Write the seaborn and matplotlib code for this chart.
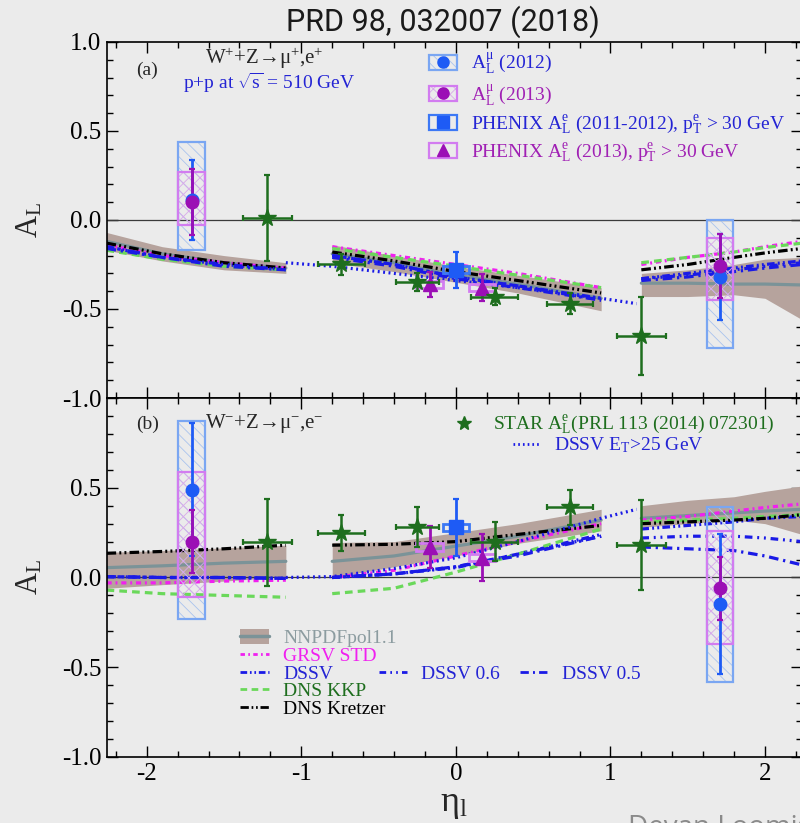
import matplotlib
matplotlib.use("Agg")
import matplotlib.pyplot as plt
from matplotlib.lines import Line2D
from matplotlib.patches import Rectangle
from matplotlib.ticker import MultipleLocator
import pandas as pd
import seaborn as sns

# ---------------- data ----------------
# theory calculations exist in three eta ranges
ETA_SEG = [[-2.26, -1.9, -1.5, -1.1],
           [-0.8, -0.4, 0.0, 0.4, 0.94],
           [1.2, 1.5, 1.8, 2.0, 2.24]]

# panel (a): W+ -> mu+, e+
NNPDF_P = [-0.12, -0.19, -0.24, -0.27, -0.19, -0.24, -0.31, -0.36, -0.44, -0.355, -0.355, -0.36, -0.36, -0.365]
NNPDF_P_LO = [-0.17, -0.23, -0.28, -0.30, -0.24, -0.29, -0.35, -0.41, -0.51, -0.43, -0.43, -0.42, -0.44, -0.56]
NNPDF_P_HI = [-0.07, -0.15, -0.20, -0.24, -0.14, -0.20, -0.26, -0.31, -0.38, -0.30, -0.28, -0.25, -0.22, -0.21]
GRSV_P = [-0.14, -0.20, -0.24, -0.27, -0.15, -0.20, -0.25, -0.30, -0.38, -0.25, -0.21, -0.18, -0.15, -0.12]
DSSV_P = [-0.15, -0.21, -0.25, -0.28, -0.20, -0.25, -0.32, -0.37, -0.44, -0.33, -0.30, -0.27, -0.25, -0.23]
KKP_P = [-0.17, -0.22, -0.26, -0.28, -0.16, -0.21, -0.26, -0.31, -0.38, -0.24, -0.21, -0.18, -0.155, -0.13]
KRETZER_P = [-0.13, -0.19, -0.24, -0.27, -0.18, -0.23, -0.29, -0.34, -0.41, -0.28, -0.25, -0.21, -0.185, -0.16]
DSSV06_P = [-0.15, -0.21, -0.25, -0.28, -0.20, -0.25, -0.32, -0.37, -0.45, -0.33, -0.31, -0.28, -0.26, -0.24]
DSSV05_P = [-0.16, -0.21, -0.26, -0.28, -0.21, -0.26, -0.33, -0.38, -0.45, -0.34, -0.32, -0.29, -0.27, -0.25]

# panel (b): W- -> mu-, e-
NNPDF_M = [0.055, 0.065, 0.08, 0.09, 0.09, 0.12, 0.175, 0.23, 0.32, 0.33, 0.345, 0.36, 0.37, 0.38]
NNPDF_M_LO = [-0.06, -0.04, -0.02, 0.005, 0.0, 0.06, 0.12, 0.19, 0.26, 0.28, 0.30, 0.32, 0.30, 0.24]
NNPDF_M_HI = [0.14, 0.15, 0.165, 0.18, 0.195, 0.20, 0.25, 0.30, 0.38, 0.40, 0.43, 0.45, 0.48, 0.51]
GRSV_M = [-0.03, -0.03, -0.02, -0.015, 0.0, 0.04, 0.12, 0.20, 0.30, 0.32, 0.34, 0.37, 0.39, 0.41]
DSSV_M = [0.005, 0.0, 0.0, -0.005, 0.0, 0.02, 0.055, 0.13, 0.24, 0.27, 0.29, 0.31, 0.33, 0.34]
KKP_M = [-0.07, -0.09, -0.10, -0.11, -0.09, -0.06, 0.03, 0.13, 0.27, 0.31, 0.32, 0.33, 0.34, 0.35]
KRETZER_M = [0.135, 0.145, 0.16, 0.18, 0.18, 0.185, 0.20, 0.24, 0.29, 0.30, 0.31, 0.32, 0.33, 0.35]
DSSV06_M = [0.005, 0.0, 0.0, -0.005, 0.0, 0.02, 0.06, 0.13, 0.23, 0.22, 0.23, 0.23, 0.22, 0.20]
DSSV05_M = [0.005, 0.0, 0.0, -0.005, 0.0, 0.02, 0.06, 0.12, 0.23, 0.17, 0.16, 0.15, 0.12, 0.07]

# DSSV with E_T > 25 GeV (continuous)
ETA_DSSV_ET = [-1.1, -0.8, -0.4, 0.0, 0.4, 0.94, 1.17]
DSSV_ET_P = [-0.24, -0.26, -0.30, -0.34, -0.38, -0.44, -0.47]
DSSV_ET_M = [0.0, 0.005, 0.05, 0.11, 0.20, 0.33, 0.38]

# STAR A_L^e (PRL 113 (2014) 072301)
STAR_ETA = [-1.22, -0.74, -0.25, 0.25, 0.74, 1.2]
STAR_XERR = [0.16, 0.15, 0.14, 0.15, 0.15, 0.16]
STAR_A_P = [0.01, -0.25, -0.35, -0.43, -0.47, -0.65]
STAR_ERR_P = [0.24, 0.06, 0.05, 0.05, 0.06, 0.22]
STAR_A_M = [0.195, 0.25, 0.28, 0.20, 0.39, 0.18]
STAR_ERR_M = [0.245, 0.10, 0.11, 0.11, 0.10, 0.25]

# PHENIX muons
MU_ETA = [-1.71, 1.71]
MU12_A_P = [0.11, -0.32]
MU12_ERR_P = [0.225, 0.24]
MU12_BOX_P_LO = [-0.17, -0.72]
MU12_BOX_P_HI = [0.44, 0.0]
MU13_A_P = [0.10, -0.26]
MU13_ERR_P = [0.185, 0.18]
MU13_BOX_P_LO = [-0.03, -0.45]
MU13_BOX_P_HI = [0.27, -0.10]
MU12_A_M = [0.49, -0.15]
MU12_ERR_M = [0.37, 0.39]
MU12_BOX_M_LO = [-0.23, -0.58]
MU12_BOX_M_HI = [0.87, 0.39]
MU13_A_M = [0.20, -0.06]
MU13_ERR_M = [0.175, 0.175]
MU13_BOX_M_LO = [-0.11, -0.37]
MU13_BOX_M_HI = [0.59, 0.26]

# PHENIX electrons
PHX12_ETA = [0.0]
PHX12_A_P = [-0.28]
PHX12_ERR_P = [0.10]
PHX12_A_M = [0.28]
PHX12_ERR_M = [0.16]
PHX13_ETA = [-0.17, 0.17]
PHX13_A_P = [-0.36, -0.38]
PHX13_ERR_P = [0.07, 0.075]
PHX13_A_M = [0.17, 0.11]
PHX13_ERR_M = [0.115, 0.13]
PHX_SYS = 0.02

# ---------------- style ----------------
BG = "#ebebeb"
BAND = "#b6a39d"
NNPDF_LINE = "#7b9398"
MAGENTA = "#f020f0"
BLUE = "#1a1ae6"
GREEN_LINE = "#6ad85a"
GREEN = "#1e6e1e"
BLUE_TXT = "#2424d4"
PURPLE_TXT = "#a020b4"
MU12_COL = "#1e5bf5"
MU13_COL = "#9b0fb5"
MU12_EDGE = "#7aa6f2"
MU13_EDGE = "#d27cf0"
MU12_HATCH = "#a9c3ee"
MU13_HATCH = "#d9a8ea"
PHX12_EDGE = "#3c78f5"

COLORS = {"NNPDF": NNPDF_LINE, "GRSV": MAGENTA, "DSSV": BLUE, "KKP": GREEN_LINE,
          "Kretzer": "black", "DSSV06": BLUE, "DSSV05": BLUE, "DSSV_ET": BLUE}
DASHES = {"NNPDF": "", "GRSV": (1.6, 1.2, 0.6, 1.2), "DSSV": (2.4, 1.0, 0.6, 1.0, 0.6, 1.0),
          "KKP": (2.4, 1.6), "Kretzer": (3.0, 1.0, 0.6, 1.0, 0.6, 1.0),
          "DSSV06": (2.4, 1.5, 0.6, 1.5, 0.6, 1.5), "DSSV05": (3.0, 1.5, 0.7, 1.5),
          "DSSV_ET": (0.6, 1.1)}

sns.set_theme(style="ticks", rc={"axes.facecolor": BG, "figure.facecolor": BG})
plt.rcParams["font.family"] = ["Liberation Serif", "DejaVu Serif"]
plt.rcParams["mathtext.fontset"] = "custom"
plt.rcParams["mathtext.rm"] = "Liberation Serif"
plt.rcParams["mathtext.it"] = "Liberation Serif:italic"
plt.rcParams["mathtext.bf"] = "Liberation Serif:bold"
plt.rcParams["hatch.linewidth"] = 0.6


def theory_frame(curves, et_values):
    rows = []
    for model, values in curves.items():
        i = 0
        for s, etas in enumerate(ETA_SEG):
            for eta in etas:
                rows.append((model, s, eta, values[i]))
                i += 1
    for eta, v in zip(ETA_DSSV_ET, et_values):
        rows.append(("DSSV_ET", 9, eta, v))
    return pd.DataFrame(rows, columns=["model", "seg", "eta", "A"])


def draw_panel(ax, curves, lo, hi, et_values, star_a, star_err, mu12, mu13, phx12, phx13):
    i = 0
    for etas in ETA_SEG:
        n = len(etas)
        ax.fill_between(etas, lo[i:i + n], hi[i:i + n], color=BAND, lw=0, zorder=1)
        i += n
    ax.axhline(0, color="#3a3a3a", lw=0.9, zorder=1.5)

    df = theory_frame(curves, et_values)
    sns.lineplot(data=df, x="eta", y="A", hue="model", style="model", units="seg",
                 estimator=None, sort=False, palette=COLORS, dashes=DASHES,
                 linewidth=2.3, legend=False, ax=ax, zorder=2)

    # muon systematic boxes (hatch and outline) and points
    for (a, err, blo, bhi), hcol, edge, hatch in ((mu12, MU12_HATCH, MU12_EDGE, "\\\\\\"),
                                                   (mu13, MU13_HATCH, MU13_EDGE, "xxx")):
        heights = [h - l for l, h in zip(blo, bhi)]
        ax.bar(MU_ETA, heights, bottom=blo, width=0.17, facecolor="none",
               edgecolor=hcol, hatch=hatch, lw=0, zorder=4)
        ax.bar(MU_ETA, heights, bottom=blo, width=0.17, facecolor="none",
               edgecolor=edge, lw=1.6, zorder=4.1)
    for (a, err, blo, bhi), col in ((mu12, MU12_COL), (mu13, MU13_COL)):
        ax.errorbar(MU_ETA, a, yerr=err, fmt="o", ms=9, color=col, ecolor=col,
                    elinewidth=2, capsize=2.5, capthick=1.6, zorder=6)

    # PHENIX electrons
    (e12, a12, err12), (e13, a13, err13) = phx12, phx13
    ax.bar(e12, [2 * PHX_SYS] * len(e12), bottom=[v - PHX_SYS for v in a12], width=0.17,
           facecolor="none", edgecolor=PHX12_EDGE, lw=2, zorder=5)
    ax.bar(e13, [2 * PHX_SYS] * len(e13), bottom=[v - PHX_SYS for v in a13], width=0.17,
           facecolor="none", edgecolor=MU13_EDGE, lw=2, zorder=5)
    ax.errorbar(e12, a12, yerr=err12, fmt="s", ms=10, color=MU12_COL, elinewidth=2,
                capsize=2.5, capthick=1.6, zorder=6)
    ax.errorbar(e13, a13, yerr=err13, fmt="^", ms=10, color=MU13_COL, elinewidth=2,
                capsize=2.5, capthick=1.6, zorder=6)

    # STAR
    ax.errorbar(STAR_ETA, star_a, xerr=STAR_XERR, yerr=star_err, fmt="*", ms=13,
                color=GREEN, ecolor=GREEN, elinewidth=1.8, capsize=2.5, capthick=1.6, zorder=7)

    ax.set_xlim(-2.257, 2.237)
    ax.set_ylim(-1, 1)
    ax.xaxis.set_major_locator(MultipleLocator(1))
    ax.xaxis.set_minor_locator(MultipleLocator(0.2))
    ax.set_yticks([-1, -0.5, 0, 0.5, 1])
    ax.yaxis.set_minor_locator(MultipleLocator(0.1))
    ax.tick_params(which="both", direction="in", top=True, right=True, width=1, colors="black")
    ax.tick_params(which="major", length=8, labelsize=18, pad=4)
    ax.tick_params(which="minor", length=4)
    for sp in ax.spines.values():
        sp.set_linewidth(1.2)
        sp.set_color("black")
    ax.set_ylabel(r"A$_\mathrm{L}$", fontsize=22)
    ax.yaxis.set_label_coords(-0.09, 0.5)
    ax.set_xlabel("")


fig = plt.figure(figsize=(8, 8.23), dpi=100)
ax_a = fig.add_axes([0.1338, 0.5164, 0.8682, 0.4326])
ax_b = fig.add_axes([0.1338, 0.0802, 0.8682, 0.4362])

draw_panel(ax_a,
           {"NNPDF": NNPDF_P, "GRSV": GRSV_P, "DSSV": DSSV_P, "KKP": KKP_P,
            "Kretzer": KRETZER_P, "DSSV06": DSSV06_P, "DSSV05": DSSV05_P},
           NNPDF_P_LO, NNPDF_P_HI, DSSV_ET_P, STAR_A_P, STAR_ERR_P,
           (MU12_A_P, MU12_ERR_P, MU12_BOX_P_LO, MU12_BOX_P_HI),
           (MU13_A_P, MU13_ERR_P, MU13_BOX_P_LO, MU13_BOX_P_HI),
           (PHX12_ETA, PHX12_A_P, PHX12_ERR_P), (PHX13_ETA, PHX13_A_P, PHX13_ERR_P))
draw_panel(ax_b,
           {"NNPDF": NNPDF_M, "GRSV": GRSV_M, "DSSV": DSSV_M, "KKP": KKP_M,
            "Kretzer": KRETZER_M, "DSSV06": DSSV06_M, "DSSV05": DSSV05_M},
           NNPDF_M_LO, NNPDF_M_HI, DSSV_ET_M, STAR_A_M, STAR_ERR_M,
           (MU12_A_M, MU12_ERR_M, MU12_BOX_M_LO, MU12_BOX_M_HI),
           (MU13_A_M, MU13_ERR_M, MU13_BOX_M_LO, MU13_BOX_M_HI),
           (PHX12_ETA, PHX12_A_M, PHX12_ERR_M), (PHX13_ETA, PHX13_A_M, PHX13_ERR_M))

ax_a.set_yticklabels(["-1.0", "-0.5", "0.0", "0.5", "1.0"])
ax_a.tick_params(labelbottom=False)
ax_b.set_yticklabels(["-1.0", "-0.5", "0.0", "0.5", ""])
ax_b.set_xticks([-2, -1, 0, 1, 2])
ax_b.set_xticklabels(["-2", "-1", "0", "1", "2"])
ax_b.set_xlabel(r"$\mathrm{\eta}_\mathrm{l}$", fontsize=26)
ax_b.xaxis.set_label_coords(0.5, -0.085)

# panel annotations
ax_a.text(0.058, 0.921, "(a)", transform=ax_a.transAxes, ha="center", va="center", fontsize=14)
ax_a.text(0.141, 0.955, r"W$^{+}$+Z→μ$^{+}$,e$^{+}$", transform=ax_a.transAxes,
          ha="left", va="center", fontsize=15)
ax_a.text(0.110, 0.885, r"p+p at $\sqrt{\mathrm{s}}$ = 510 GeV", transform=ax_a.transAxes,
          ha="left", va="center", fontsize=14, color=BLUE_TXT)
ax_b.text(0.058, 0.928, "(b)", transform=ax_b.transAxes, ha="center", va="center", fontsize=14)
ax_b.text(0.141, 0.928, r"W$^{-}$+Z→μ$^{-}$,e$^{-}$", transform=ax_b.transAxes,
          ha="left", va="center", fontsize=15)

leg_kw = dict(frameon=False, borderpad=0, borderaxespad=0, fontsize=14, loc="upper left")

# legend (a): data sets
h_mu12 = (Rectangle((0, 0), 1, 1, facecolor="none", edgecolor=MU12_HATCH, hatch="\\\\\\", lw=0),
          Rectangle((0, 0), 1, 1, facecolor="none", edgecolor=MU12_EDGE, lw=1.6),
          Line2D([], [], ls="", marker="o", ms=8, color=MU12_COL))
h_mu13 = (Rectangle((0, 0), 1, 1, facecolor="none", edgecolor=MU13_HATCH, hatch="xxx", lw=0),
          Rectangle((0, 0), 1, 1, facecolor="none", edgecolor=MU13_EDGE, lw=1.6),
          Line2D([], [], ls="", marker="o", ms=8, color=MU13_COL))
h_phx12 = (Rectangle((0, 0), 1, 1, facecolor="none", edgecolor=PHX12_EDGE, lw=1.6),
           Line2D([], [], ls="", marker="s", ms=8, color=MU12_COL))
h_phx13 = (Rectangle((0, 0), 1, 1, facecolor="none", edgecolor=MU13_EDGE, lw=1.6),
           Line2D([], [], ls="", marker="^", ms=8, color=MU13_COL))
ax_a.legend([h_mu12, h_mu13, h_phx12, h_phx13],
            [r"A$_\mathrm{L}^\mathrm{\mu}$ (2012)", r"A$_\mathrm{L}^\mathrm{\mu}$ (2013)",
             r"PHENIX A$_\mathrm{L}^\mathrm{e}$ (2011-2012), p$_\mathrm{T}^\mathrm{e}$ > 30 GeV",
             r"PHENIX A$_\mathrm{L}^\mathrm{e}$ (2013), p$_\mathrm{T}^\mathrm{e}$ > 30 GeV"],
            labelcolor=[BLUE_TXT, PURPLE_TXT, BLUE_TXT, PURPLE_TXT],
            bbox_to_anchor=(0.463, 0.975), handlelength=1.45, handleheight=0.8,
            handletextpad=0.75, labelspacing=0.3, **leg_kw)


def line_handle(key, lw=2.0):
    d = DASHES[key]
    if d == "":
        return Line2D([], [], color=COLORS[key], lw=lw)
    return Line2D([], [], color=COLORS[key], lw=lw, dashes=d)


# legend (b): STAR and DSSV E_T
leg1 = ax_b.legend([Line2D([], [], ls="", marker="*", ms=10, color=GREEN)],
                   [r"STAR A$_\mathrm{L}^\mathrm{e}$(PRL 113 (2014) 072301)"], labelcolor=[GREEN],
                   bbox_to_anchor=(0.4935, 0.955), handlelength=1.45, handletextpad=0.75, **leg_kw)
ax_b.add_artist(leg1)
leg2 = ax_b.legend([line_handle("DSSV_ET")], [r"DSSV E$_\mathrm{T}$>25 GeV"], labelcolor=[BLUE_TXT],
                   bbox_to_anchor=(0.584, 0.895), handlelength=1.45, handletextpad=0.7, **leg_kw)
ax_b.add_artist(leg2)

# legend (b): theory
h_nnpdf = (Rectangle((0, 0), 1, 1, facecolor=BAND, edgecolor="none"),
           Line2D([], [], color=NNPDF_LINE, lw=2.5))
leg3 = ax_b.legend([h_nnpdf, line_handle("GRSV"), line_handle("DSSV"), line_handle("KKP"),
                    line_handle("Kretzer")],
                   ["NNPDFpol1.1", "GRSV STD", "DSSV", "DNS KKP", "DNS Kretzer"],
                   labelcolor=["#8c9ca0", MAGENTA, BLUE_TXT, GREEN, "black"],
                   bbox_to_anchor=(0.192, 0.357), handlelength=1.45, handleheight=0.8,
                   handletextpad=0.75, labelspacing=-0.02, **leg_kw)
ax_b.add_artist(leg3)
ax_b.legend([line_handle("DSSV06"), line_handle("DSSV05")], ["DSSV 0.6", "DSSV 0.5"],
            labelcolor=[BLUE_TXT, BLUE_TXT], ncol=2, columnspacing=1.0,
            bbox_to_anchor=(0.391, 0.255), handlelength=1.45, handletextpad=0.75, **leg_kw)

fig.text(0.554, 0.974, "PRD 98, 032007 (2018)", ha="center", va="center", fontsize=22,
         family=["Roboto", "DejaVu Sans"], color="#1a1a1a")
fig.text(0.785, -0.0146, "Devan Loomis", ha="left", va="baseline", fontsize=20,
         family=["Open Sans", "DejaVu Sans"], color="#8a8a8a")

fig.savefig("out.png", dpi=100, facecolor=BG)
